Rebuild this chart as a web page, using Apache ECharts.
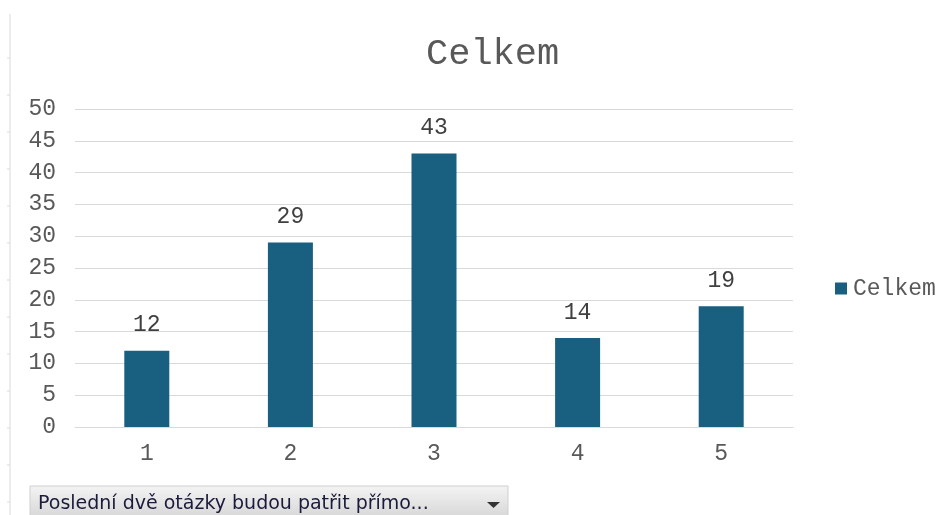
<!DOCTYPE html>
<html><head><meta charset="utf-8">
<script src="https://cdn.jsdelivr.net/npm/echarts@6/dist/echarts.min.js"></script>
<style>html,body{margin:0;padding:0;background:#fff}#c{width:939px;height:515px}</style>
</head><body><div id="c"></div>
<script>
const categories = ['1','2','3','4','5'];
const values = [12, 29, 43, 14, 19];
const seriesName = 'Celkem';
const titleText = 'Celkem';
const filterText = 'Poslední dvě otázky budou patřit přímo...';

const mono = '"Liberation Mono", "DejaVu Sans Mono", monospace';
const chart = echarts.init(document.getElementById('c'));
const leftTicks = [];
for (let y = 58; y < 515; y += 37) {
  leftTicks.push({type:'line', shape:{x1:7,y1:y,x2:10,y2:y}, style:{stroke:'#d9d9d9',lineWidth:1}});
}
chart.setOption({
  animation:false,
  title:{text:titleText, left:421, top:31,
    textStyle:{fontFamily:mono, fontSize:37, fontWeight:'normal', color:'#595959'}},
  legend:{data:[seriesName], left:830, top:272, orient:'vertical', icon:'rect', itemWidth:12, itemHeight:12, itemGap:4,
    textStyle:{fontFamily:mono, fontSize:23, color:'#595959', padding:[0,0,0,1]}},
  grid:{left:75, right:146, top:109, bottom:88, containLabel:false},
  xAxis:{type:'category', data:categories,
    axisLine:{lineStyle:{color:'#d9d9d9'}}, axisTick:{show:false},
    axisLabel:{fontFamily:mono, fontSize:23, color:'#595959', margin:15}},
  yAxis:{type:'value', min:0, max:50, interval:5,
    axisLine:{show:false}, axisTick:{show:false},
    splitLine:{lineStyle:{color:'#d9d9d9'}},
    axisLabel:{fontFamily:mono, fontSize:23, color:'#595959', margin:19, align:'right'}},
  series:[{name:seriesName, type:'bar', data:values, barWidth:45,
    itemStyle:{color:'#185f80'},
    label:{show:true, position:'top', distance:14, fontFamily:mono, fontSize:23, color:'#404040'}}],
  graphic:[
    {type:'line', shape:{x1:10,y1:14,x2:10,y2:515}, style:{stroke:'#d9d9d9',lineWidth:1}},
    ...leftTicks,
    {type:'rect', shape:{x:30,y:486,width:478,height:32},
      style:{fill:new echarts.graphic.LinearGradient(0,0,0,1,[{offset:0,color:'#f4f4f4'},{offset:1,color:'#d6d6d6'}]), stroke:'#cfcfcf', lineWidth:1}},
    {type:'text', left:38, top:495, style:{text:filterText, font:'19px "DejaVu Sans", sans-serif', fill:'#1a1a3a'}},
    {type:'polygon', shape:{points:[[487,502],[500,502],[493.5,508]]}, style:{fill:'#333'}}
  ]
});
</script></body></html>
